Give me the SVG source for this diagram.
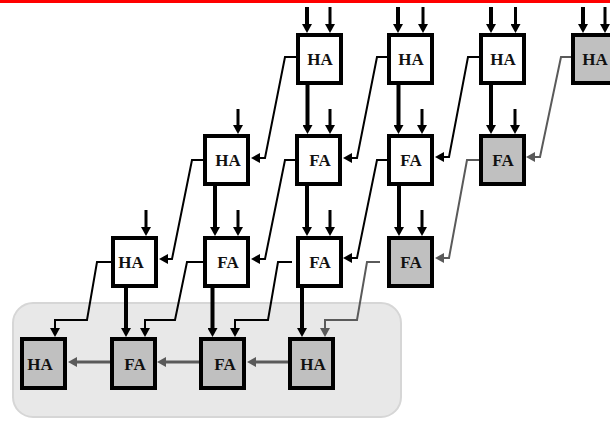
<svg xmlns="http://www.w3.org/2000/svg" width="610" height="421" viewBox="0 0 610 421">
  <style>
    .box { fill: #ffffff; stroke: #000000; stroke-width: 4; }
    .box.shaded { fill: #c0c0c0; }
    .lbl { font-family: "Liberation Serif", "Times New Roman", serif; font-weight: bold; font-size: 17px; fill: #111111; text-anchor: middle; }
    .in { fill: none; stroke: #000000; stroke-width: 3; marker-end: url(#ah); }
    .sum { fill: none; stroke: #000000; stroke-width: 4; marker-end: url(#ah); }
    .carry { fill: none; stroke: #000000; stroke-width: 2; stroke-linejoin: miter; marker-end: url(#ah); }
    .carry.grey { stroke: #5a5a5a; marker-end: url(#ahg); }
    .row { fill: none; stroke: #5a5a5a; stroke-width: 3; marker-end: url(#ahg); }
  </style>
  <defs>
    <marker id="ah" viewBox="0 0 9 10" markerWidth="9" markerHeight="10" markerUnits="userSpaceOnUse" refX="2" refY="5" orient="auto">
      <path d="M0,0 L9,5 L0,10 Z" fill="#000000"/>
    </marker>
    <marker id="ahg" viewBox="0 0 9 10" markerWidth="9" markerHeight="10" markerUnits="userSpaceOnUse" refX="2" refY="5" orient="auto">
      <path d="M0,0 L9,5 L0,10 Z" fill="#5a5a5a"/>
    </marker>
  </defs>

  <!-- top rule -->
  <rect x="0" y="0" width="610" height="3" fill="#ff0000"/>

  <!-- final adder row enclosure -->
  <rect id="final-row" x="13" y="303" width="388" height="114" rx="20" ry="20" fill="#e8e8e8" stroke="#d6d6d6" stroke-width="2"/>

  <!-- connectors -->
  <g id="connectors">
    <!-- primary inputs into row 1 -->
    <path class="sum" d="M307,7 V26"/>
    <path class="in" d="M330,7 V26"/>
    <path class="sum" d="M398,7 V26"/>
    <path class="in" d="M423,7 V26"/>
    <path class="sum" d="M491,7 V26"/>
    <path class="in" d="M515.5,7 V26"/>
    <path class="sum" d="M583,7 V26"/>
    <path class="in" d="M605,7 V26"/>

    <!-- row 1 to row 2: sums -->
    <path class="sum" d="M307.5,85 V127"/>
    <path class="sum" d="M398.5,85 V127"/>
    <path class="sum" d="M491,85 V127"/>
    <!-- row 2 extra inputs -->
    <path class="in" d="M238,109 V127"/>
    <path class="in" d="M330,109 V127"/>
    <path class="in" d="M422,109 V127"/>
    <path class="in" d="M515,109 V127"/>
    <!-- row 1 to row 2: carries -->
    <path class="carry" d="M296,57 H285 L265,158 H258"/>
    <path class="carry" d="M387,57 H377 L357,158 H350"/>
    <path class="carry" d="M479,57 H468 L449,157 H442"/>
    <path class="carry grey" d="M571,57 H561 L540,157 H533"/>

    <!-- row 2 to row 3: sums -->
    <path class="sum" d="M215,186 V229"/>
    <path class="sum" d="M307,186 V229"/>
    <path class="sum" d="M399,186 V229"/>
    <!-- row 3 extra inputs -->
    <path class="in" d="M146,210 V229"/>
    <path class="in" d="M238,210 V229"/>
    <path class="in" d="M330,210 V229"/>
    <path class="in" d="M422,210 V229"/>
    <!-- row 2 to row 3: carries -->
    <path class="carry" d="M203,160 H192 L172,259 H166"/>
    <path class="carry" d="M295,160 H285 L265,259 H258"/>
    <path class="carry" d="M387,160 H377 L357,258 H350"/>
    <path class="carry grey" d="M479,160 H467 L449,258 H442"/>

    <!-- row 3 to row 4: sums -->
    <path class="sum" d="M126,288 V330"/>
    <path class="sum" d="M212.5,288 V330"/>
    <path class="sum" d="M302,288 V330"/>
    <!-- row 3 to row 4: carries -->
    <path class="carry" d="M111,262 H97 L87,320 H55 V330"/>
    <path class="carry" d="M203,262 H187 L175,320 H145 V330"/>
    <path class="carry" d="M292,262 H278 L268,320 H235 V330"/>
    <path class="carry grey" d="M380,262 H367 L357,320 H325 V330"/>

    <!-- ripple carries along row 4 -->
    <path class="row" d="M288,362 H254"/>
    <path class="row" d="M199,362 H164"/>
    <path class="row" d="M110,362 H75"/>
  </g>

  <!-- row 1 -->
  <g id="r1c1"><rect class="box" x="298" y="35" width="43" height="48"/><text class="lbl" x="320" y="65">HA</text></g>
  <g id="r1c2"><rect class="box" x="389" y="35" width="43" height="48"/><text class="lbl" x="411" y="65">HA</text></g>
  <g id="r1c3"><rect class="box" x="481" y="35" width="43" height="48"/><text class="lbl" x="503" y="65">HA</text></g>
  <g id="r1c4"><rect class="box shaded" x="573" y="35" width="43" height="48"/><text class="lbl" x="595" y="65">HA</text></g>

  <!-- row 2 -->
  <g id="r2c1"><rect class="box" x="205" y="136" width="43" height="48"/><text class="lbl" x="228" y="166">HA</text></g>
  <g id="r2c2"><rect class="box" x="297" y="136" width="43" height="48"/><text class="lbl" x="320" y="166">FA</text></g>
  <g id="r2c3"><rect class="box" x="389" y="136" width="43" height="48"/><text class="lbl" x="411" y="166">FA</text></g>
  <g id="r2c4"><rect class="box shaded" x="481" y="136" width="43" height="48"/><text class="lbl" x="503" y="166">FA</text></g>

  <!-- row 3 -->
  <g id="r3c1"><rect class="box" x="113" y="238" width="43" height="48"/><text class="lbl" x="131" y="268">HA</text></g>
  <g id="r3c2"><rect class="box" x="205" y="238" width="43" height="48"/><text class="lbl" x="228" y="268">FA</text></g>
  <g id="r3c3"><rect class="box" x="298" y="238" width="43" height="48"/><text class="lbl" x="320" y="268">FA</text></g>
  <g id="r3c4"><rect class="box shaded" x="389" y="238" width="43" height="48"/><text class="lbl" x="411" y="268">FA</text></g>

  <!-- row 4: final carry-propagate adder -->
  <g id="r4c1"><rect class="box shaded" x="22" y="339" width="43" height="49"/><text class="lbl" x="40" y="369.5">HA</text></g>
  <g id="r4c2"><rect class="box shaded" x="112" y="339" width="43" height="49"/><text class="lbl" x="135" y="369.5">FA</text></g>
  <g id="r4c3"><rect class="box shaded" x="201" y="339" width="43" height="49"/><text class="lbl" x="225" y="369.5">FA</text></g>
  <g id="r4c4"><rect class="box shaded" x="290" y="339" width="43" height="49"/><text class="lbl" x="313" y="369.5">HA</text></g>
</svg>
